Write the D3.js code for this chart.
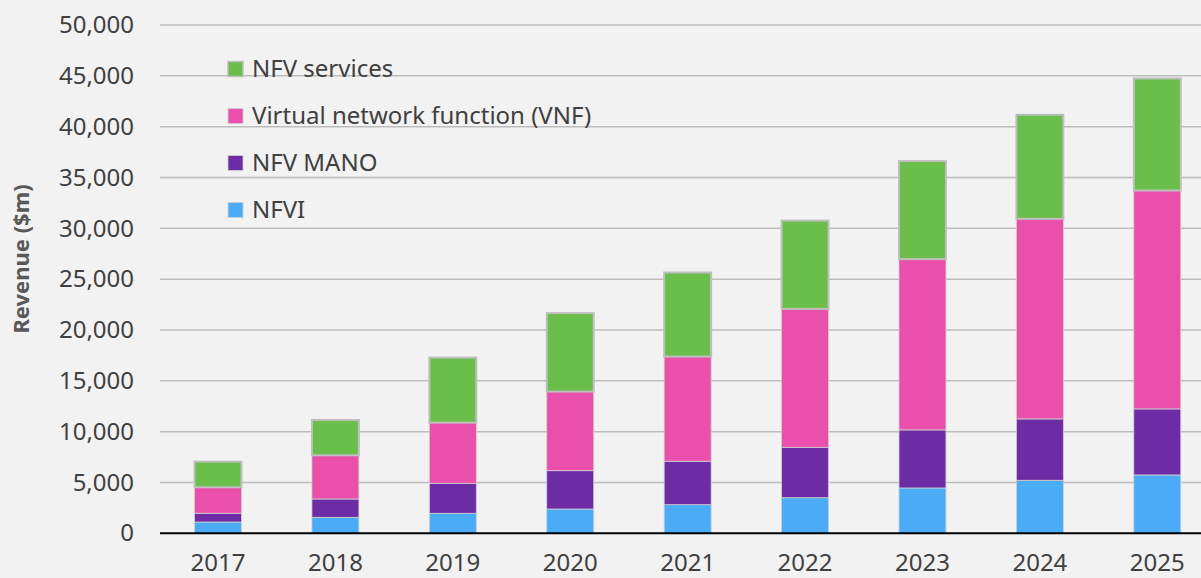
<!DOCTYPE html>
<html>
<head>
<meta charset="utf-8">
<script src="https://cdn.jsdelivr.net/npm/d3@7"></script>
<style>
  html, body { margin: 0; padding: 0; background: #f2f2f2; }
  svg { display: block; }
  text { font-family: "Noto Sans", "Open Sans", sans-serif; }
</style>
</head>
<body>
<svg id="chart" width="1201" height="578"></svg>
<script>
const years = ["2017", "2018", "2019", "2020", "2021", "2022", "2023", "2024", "2025"];
const nfvi = [1110, 1575, 1970, 2390, 2815, 3500, 4460, 5215, 5740];
const nfvMano = [860, 1800, 2950, 3770, 4270, 4965, 5710, 6035, 6495];
const vnf = [2560, 4300, 5965, 7780, 10300, 13610, 16800, 19685, 21485];
const nfvServices = [2520, 3475, 6400, 7720, 8270, 8690, 9645, 10235, 11025];
const yTicks = [0, 5000, 10000, 15000, 20000, 25000, 30000, 35000, 40000, 45000, 50000];
const seriesKeys = ["NFVI", "NFV MANO", "Virtual network function (VNF)", "NFV services"];
const seriesColors = ["#4aacf7", "#6e2ba6", "#ea4fab", "#6abf4b"];
const legendOrder = ["NFV services", "Virtual network function (VNF)", "NFV MANO", "NFVI"];
const yTitle = "Revenue ($m)";

const table = years.map((y, i) => ({
  year: y,
  "NFVI": nfvi[i],
  "NFV MANO": nfvMano[i],
  "Virtual network function (VNF)": vnf[i],
  "NFV services": nfvServices[i]
}));

const svg = d3.select("#chart");
const W = 1201, H = 578;
const plotLeft = 159.3, plotRight = 1216, yBottom = 533.3, yTop = 25;

svg.append("rect").attr("width", W).attr("height", H).attr("fill", "#f2f2f2");

const x = d3.scaleBand().domain(years).range([plotLeft, plotRight]).paddingInner(0.6).paddingOuter(0.3);
const y = d3.scaleLinear().domain([0, 50000]).range([yBottom, yTop]);
const color = d3.scaleOrdinal().domain(seriesKeys).range(seriesColors);

// gridlines
svg.append("g").selectAll("line").data(yTicks.filter(t => t > 0)).join("line")
  .attr("x1", 160).attr("x2", W)
  .attr("y1", d => y(d)).attr("y2", d => y(d))
  .attr("stroke", "#bdbdbd").attr("stroke-width", 1.5);

// y axis labels
const yAxis = d3.axisLeft(y).tickValues(yTicks).tickFormat(d3.format(",")).tickSize(0).tickPadding(0);
const yg = svg.append("g").attr("transform", "translate(134,0)").call(yAxis);
yg.select(".domain").remove();
yg.selectAll("text").attr("font-size", 24).attr("fill", "#404040")
  .attr("font-family", "'Noto Sans', sans-serif");

// y title
svg.append("text")
  .attr("transform", "translate(29," + 259 + ") rotate(-90)")
  .attr("text-anchor", "middle")
  .attr("font-size", 22).attr("font-weight", "bold").attr("fill", "#595959")
  .text(yTitle);

// bars
const stack = d3.stack().keys(seriesKeys);
const stacked = stack(table);
const layers = svg.append("g").selectAll("g").data(stacked).join("g")
  .attr("fill", d => color(d.key));
layers.selectAll("rect").data(d => d.map(v => Object.assign(v, { key: d.key }))).join("rect")
  .attr("x", d => x(d.data.year))
  .attr("width", x.bandwidth())
  .attr("y", d => y(d[1]))
  .attr("height", d => y(d[0]) - y(d[1]))
  .attr("stroke", d => d.key === "NFV services" ? "#bfbfbf" : "#d0d0d0")
  .attr("stroke-width", d => d.key === "NFV services" ? 2 : 0.8);

// baseline
svg.append("line").attr("x1", 160).attr("x2", W).attr("y1", yBottom).attr("y2", yBottom)
  .attr("stroke", "#000").attr("stroke-width", 2);

// x axis labels
const xAxis = d3.axisBottom(x).tickSize(0).tickPadding(0);
const xg = svg.append("g").attr("transform", "translate(0,554)").call(xAxis);
xg.select(".domain").remove();
xg.selectAll("text").attr("font-size", 24).attr("fill", "#404040")
  .attr("font-family", "'Noto Sans', sans-serif");

// legend
const legend = svg.append("g").selectAll("g").data(legendOrder).join("g")
  .attr("transform", (d, i) => "translate(228," + (69 + i * 47) + ")");
legend.append("rect").attr("x", 0).attr("y", -7.5).attr("width", 15).attr("height", 15)
  .attr("fill", d => color(d))
  .attr("stroke", d => d === "NFV services" ? "#bfbfbf" : "#d0d0d0")
  .attr("stroke-width", d => d === "NFV services" ? 1.5 : 0.8);
legend.append("text").attr("x", 24).attr("y", 0).attr("dy", "0.35em")
  .attr("font-size", 24).attr("fill", "#404040").text(d => d);
</script>
</body>
</html>
